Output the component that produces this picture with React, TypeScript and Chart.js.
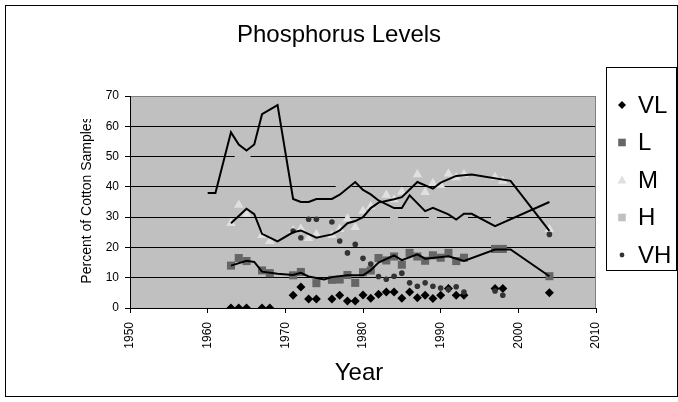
import React, { useEffect, useRef } from 'react';
import { Chart, registerables } from 'chart.js';

Chart.register(...registerables);

const TITLE = 'Phosphorus Levels';
const X_TITLE = 'Year';
const Y_TITLE = 'Percent of Cotton Samples';
const X_TICKS = [1950, 1960, 1970, 1980, 1990, 2000, 2010];
const Y_TICKS = [0, 10, 20, 30, 40, 50, 60, 70];
const SERIES_NAMES = ['VL', 'L', 'M', 'H', 'VH'];

const VL_YEARS = [1963, 1964, 1965, 1967, 1968, 1971, 1972, 1973, 1974, 1976, 1977, 1978, 1979, 1980, 1981, 1982, 1983, 1984, 1985, 1986, 1987, 1988, 1989, 1990, 1991, 1992, 1993, 1997, 1998, 2004];
const VL_VALUES = [0, 0, 0, 0, 0, 4.2, 6.9, 3, 3, 3, 4.2, 2.3, 2.3, 4.3, 3.2, 4.5, 5.3, 5.3, 3.2, 5.3, 3.4, 4.2, 3.1, 4.2, 6.4, 4.2, 4.2, 6.4, 6.4, 5];

const L_YEARS = [1963, 1964, 1965, 1967, 1968, 1971, 1972, 1974, 1976, 1977, 1978, 1979, 1980, 1981, 1982, 1983, 1984, 1985, 1986, 1987, 1988, 1989, 1990, 1991, 1992, 1993, 1997, 1998, 2004];
const L_VALUES = [14, 16.5, 15.5, 12.4, 11.5, 10.8, 11.9, 8.2, 9.3, 9.4, 10.9, 8.3, 11.8, 12.4, 16.5, 15.7, 17, 14.3, 18.2, 17, 15.6, 17.4, 16.6, 18.2, 15.5, 16.6, 19.5, 19.5, 10.5];

const M_YEARS = [1963, 1964, 1965, 1967, 1968, 1971, 1972, 1973, 1974, 1976, 1977, 1978, 1979, 1980, 1981, 1983, 1984, 1985, 1987, 1988, 1989, 1990, 1991, 1992, 1993, 1997, 1998, 2004];
const M_VALUES = [28, 34, 31, 24, 22, 25.6, 26.2, 23, 24.3, 24, 26, 29.5, 26.7, 32, 33.5, 37.3, 35.8, 38.3, 44.1, 38.2, 41.2, 40.5, 44.3, 43.1, 44.1, 43.2, 41.9, 26];

const H_YEARS = [1964, 1965, 1977, 1978, 1984, 1989, 1992, 1993, 1997, 1998];
const H_VALUES = [50, 50, 40, 40, 30, 30, 30, 30, 30, 30];

const VH_YEARS = [1971, 1972, 1973, 1974, 1976, 1977, 1978, 1979, 1980, 1981, 1982, 1983, 1984, 1985, 1986, 1987, 1988, 1989, 1990, 1991, 1992, 1993, 1997, 1998, 2004];
const VH_VALUES = [25.4, 23.2, 29.3, 29.3, 28.4, 22.1, 18.2, 21, 16.4, 14.5, 10.4, 9.5, 10.5, 11.5, 8.3, 7.2, 8.3, 7.2, 6.6, 6.1, 7, 5.3, 5.6, 4.2, 24.3];

// Trend lines (moving averages)
const H_TREND_YEARS = [1960, 1961, 1963, 1964, 1965, 1966, 1967, 1969, 1971, 1972, 1973, 1974, 1976, 1977, 1979, 1980, 1981, 1982, 1984, 1985, 1986, 1988, 1989, 1991, 1992, 1993, 1994, 1997, 2004];
const H_TREND_VALUES = [38, 38, 58, 54, 52, 54, 64, 67, 36, 35, 35, 36, 36, 37.4, 41.6, 39, 37.5, 35.5, 33, 33, 37.2, 32, 33.1, 30.9, 29.2, 31.1, 31.1, 27, 35];

const M_TREND_YEARS = [1963, 1965, 1966, 1967, 1969, 1971, 1972, 1974, 1976, 1977, 1978, 1979, 1980, 1981, 1982, 1984, 1985, 1987, 1989, 1990, 1992, 1994, 1999, 2004];
const M_TREND_VALUES = [28, 32.8, 31, 24.5, 22, 25, 25.6, 23.2, 24.3, 25.6, 28, 28.7, 30, 33, 34.8, 35.9, 36.6, 41.6, 39.4, 41.4, 43.6, 44.1, 42, 25.5];

const L_TREND_YEARS = [1963, 1965, 1966, 1967, 1969, 1971, 1972, 1973, 1975, 1976, 1978, 1980, 1981, 1982, 1984, 1985, 1987, 1988, 1991, 1993, 1997, 1999, 2004];
const L_TREND_VALUES = [14, 15.6, 15.2, 12, 11.3, 10.9, 11.6, 10.4, 9.4, 10.2, 10.8, 10.8, 12.5, 15, 17.4, 15.8, 17.7, 16.3, 17.1, 15.5, 19.3, 19.3, 10.5];

const FONT = '"Liberation Sans", Arial, Helvetica, sans-serif';
const BG = '#c0c0c0';

const xy = (xs: number[], ys: number[]) => xs.map((x, i) => ({ x, y: ys[i] }));

const STYLES: Record<string, { shape: string; color: string; radius: number }> = {
  VL: { shape: 'rectRot', color: '#000000', radius: 4.5 },
  L: { shape: 'rect', color: '#666666', radius: 5.7 },
  M: { shape: 'triangle', color: '#e0e0e0', radius: 5.5 },
  H: { shape: 'rect', color: BG, radius: 5.7 },
  VH: { shape: 'circle', color: '#333333', radius: 2.8 },
};

const pointSet = (name: string, xs: number[], ys: number[], order: number) => ({
  label: name,
  data: xy(xs, ys),
  showLine: false,
  pointStyle: STYLES[name].shape,
  pointRadius: STYLES[name].radius,
  pointBackgroundColor: STYLES[name].color,
  pointBorderColor: STYLES[name].color,
  pointBorderWidth: 0,
  order,
});

const trendSet = (label: string, xs: number[], ys: number[]) => ({
  label,
  data: xy(xs, ys),
  showLine: true,
  borderColor: '#000000',
  borderWidth: 2,
  pointRadius: 0,
  tension: 0,
  fill: false,
  order: 0,
});

const drawShape = (ctx: CanvasRenderingContext2D, shape: string, x: number, y: number, s: number, color: string) => {
  ctx.save();
  ctx.fillStyle = color;
  ctx.beginPath();
  if (shape === 'rectRot') {
    ctx.moveTo(x, y - s);
    ctx.lineTo(x + s, y);
    ctx.lineTo(x, y + s);
    ctx.lineTo(x - s, y);
    ctx.closePath();
  } else if (shape === 'rect') {
    ctx.rect(x - s, y - s, 2 * s, 2 * s);
  } else if (shape === 'triangle') {
    ctx.moveTo(x, y - s);
    ctx.lineTo(x + s, y + s * 0.75);
    ctx.lineTo(x - s, y + s * 0.75);
    ctx.closePath();
  } else {
    ctx.arc(x, y, s, 0, Math.PI * 2);
  }
  ctx.fill();
  ctx.restore();
};

const decorPlugin = {
  id: 'decor',
  beforeDraw(chart: any) {
    const { ctx, chartArea: a } = chart;
    ctx.save();
    ctx.fillStyle = '#ffffff';
    ctx.fillRect(0, 0, chart.width, chart.height);
    ctx.fillStyle = BG;
    ctx.fillRect(a.left, a.top, a.right - a.left, a.bottom - a.top);
    ctx.restore();
  },
  beforeDatasetsDraw(chart: any) {
    const { ctx, chartArea: a } = chart;
    ctx.save();
    ctx.strokeStyle = '#808080';
    ctx.lineWidth = 1;
    ctx.beginPath();
    ctx.moveTo(Math.round(a.right) - 0.5, a.top);
    ctx.lineTo(Math.round(a.right) - 0.5, a.bottom);
    ctx.stroke();
    ctx.restore();
  },
  afterDraw(chart: any) {
    const { ctx, chartArea: a } = chart;
    ctx.save();
    // outer frame
    ctx.strokeStyle = '#000000';
    ctx.lineWidth = 1;
    ctx.strokeRect(5.5, 5.5, 672, 391);
    // title
    ctx.fillStyle = '#000000';
    ctx.textAlign = 'center';
    ctx.textBaseline = 'middle';
    ctx.font = `24px ${FONT}`;
    ctx.fillText(TITLE, 339, 35);
    // x title
    ctx.fillText(X_TITLE, (a.left + a.right) / 2 - 4, 373);
    // y title (clipped like the original)
    ctx.save();
    ctx.beginPath();
    ctx.rect(0, 119, 130, 300);
    ctx.clip();
    ctx.translate(87, (a.top + a.bottom) / 2 - 2);
    ctx.rotate(-Math.PI / 2);
    ctx.font = `14px ${FONT}`;
    ctx.fillText(Y_TITLE, 0, 0);
    ctx.restore();
    // legend
    ctx.strokeStyle = '#000000';
    ctx.strokeRect(606.5, 67.5, 70, 203);
    const ys = [105, 142.5, 180, 217.5, 255];
    const sizes: Record<string, number> = { VL: 4, L: 3.8, M: 4.5, H: 3.8, VH: 2.4 };
    ctx.font = `24px ${FONT}`;
    ctx.textAlign = 'left';
    SERIES_NAMES.forEach((n, i) => {
      drawShape(ctx, STYLES[n].shape, 622, ys[i], sizes[n], STYLES[n].color);
      ctx.fillStyle = '#000000';
      ctx.fillText(n, 638, ys[i] + 1);
    });
    ctx.restore();
  },
};

export default function App() {
  const ref = useRef<HTMLCanvasElement>(null);
  useEffect(() => {
    const canvas = ref.current;
    if (!canvas) return;
    const chart = new Chart(canvas, {
      type: 'scatter',
      data: {
        datasets: [
          trendSet('H trend', H_TREND_YEARS, H_TREND_VALUES),
          trendSet('M trend', M_TREND_YEARS, M_TREND_VALUES),
          trendSet('L trend', L_TREND_YEARS, L_TREND_VALUES),
          pointSet('VL', VL_YEARS, VL_VALUES, 5),
          pointSet('L', L_YEARS, L_VALUES, 4),
          pointSet('M', M_YEARS, M_VALUES, 3),
          pointSet('H', H_YEARS, H_VALUES, 2),
          pointSet('VH', VH_YEARS, VH_VALUES, 1),
        ] as any,
      },
      options: {
        responsive: false,
        animation: false,
        devicePixelRatio: 1,
        events: [],
        layout: { padding: { top: 96, right: 82, bottom: 0, left: 0 } },
        plugins: {
          legend: { display: false },
          title: { display: false },
          tooltip: { enabled: false },
        },
        scales: {
          x: {
            type: 'linear',
            min: X_TICKS[0],
            max: X_TICKS[X_TICKS.length - 1],
            afterFit: (s: any) => { s.height = 94; },
            afterBuildTicks: (s: any) => { s.ticks = X_TICKS.map((v) => ({ value: v })); },
            ticks: {
              autoSkip: false,
              minRotation: 90,
              maxRotation: 90,
              padding: 9,
              color: '#000000',
              font: { family: FONT, size: 12 },
              callback: (v: any) => String(v),
            },
            grid: { drawOnChartArea: false, drawTicks: true, tickLength: 5, color: '#000000' },
            border: { color: '#000000', width: 1 },
          },
          y: {
            min: Y_TICKS[0],
            max: Y_TICKS[Y_TICKS.length - 1],
            afterFit: (s: any) => { s.width = 130; },
            afterBuildTicks: (s: any) => { s.ticks = Y_TICKS.map((v) => ({ value: v })); },
            ticks: {
              padding: 6,
              color: '#000000',
              font: { family: FONT, size: 12 },
              callback: (v: any) => String(v),
            },
            grid: {
              color: (c: any) => (c.tick && c.tick.value === 70 ? '#808080' : '#000000'),
              tickColor: '#000000',
              tickLength: 5,
              lineWidth: 1,
            },
            border: { color: '#000000', width: 1 },
          },
        },
      } as any,
      plugins: [decorPlugin],
    });
    return () => chart.destroy();
  }, []);
  return (
    <div style={{ position: 'absolute', left: 0, top: 0, width: 678, height: 402, background: '#ffffff' }}>
      <canvas ref={ref} width={678} height={402} style={{ display: 'block', width: 678, height: 402 }} />
    </div>
  );
}
